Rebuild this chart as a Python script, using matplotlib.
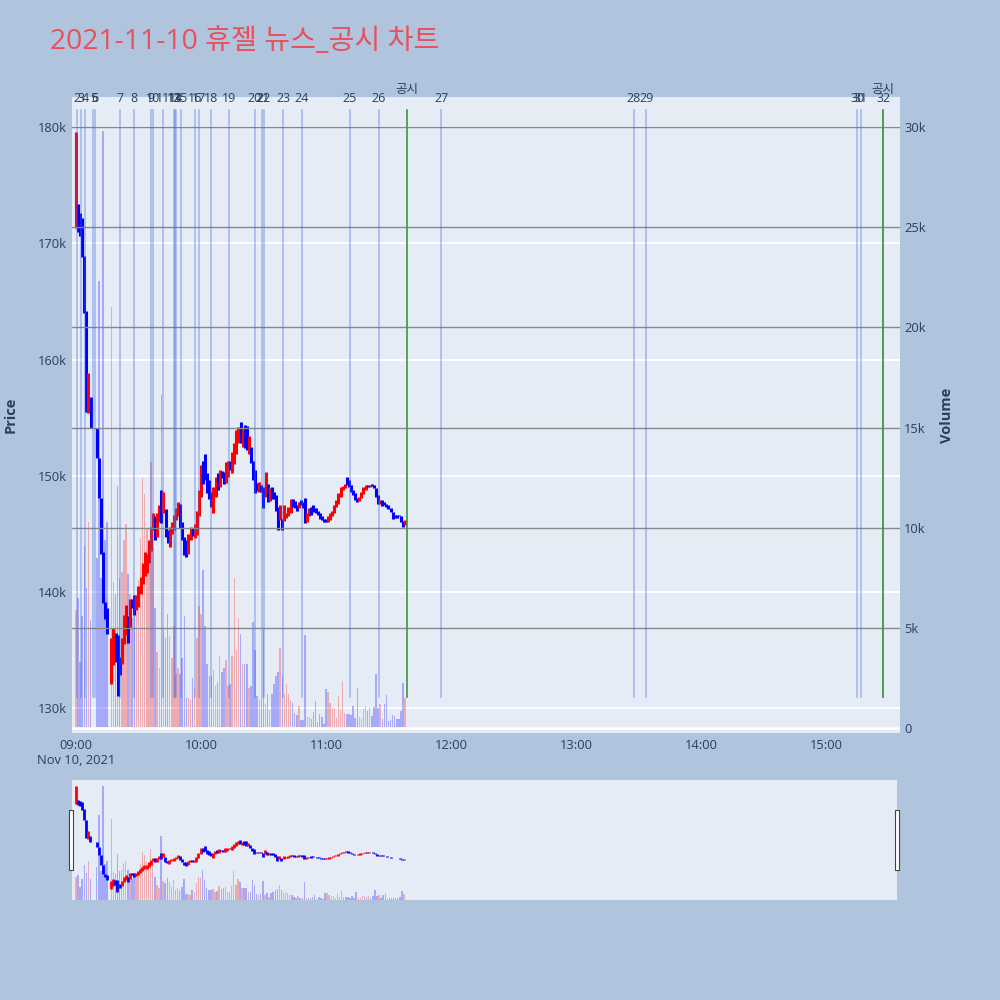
import matplotlib.pyplot as plt
from matplotlib.patches import Rectangle

plt.rcParams['font.family'] = ['Open Sans', 'Noto Sans CJK KR', 'DejaVu Sans']

# 1분봉 (09:00 부터 분 단위), 가격은 천원 단위, None = 거래 없음
opens = [171.3, 173.4, 172.6, 172.2, 168.9, 164.2, 155.4, 156.8, None, None,
         154.1, 151.5, 148.1, 143.4, 139.1, 138.6, None, 132.1, 133.7, 136.5,
         136.3, 134.4, 133.8, 135.5, 136.3, 137.9, 137.0, 139.4, 139.7, 138.4,
         138.7, 139.8, 140.7, 141.4, 141.6, 142.45, 143.5, 145.3, 146.5, 144.7,
         146.0, 148.76, 146.8, 147.1, 145.3, 143.9, 145.0, 145.3, 146.2, 146.5,
         147.6, 146.0, 144.7, 144.5, 143.3, 144.5, 145.5, 144.6, 144.9, 146.5,
         148.2, 151.3, 151.9, 150.2, 149.6, 148.6, 146.75, 148.2, 150.2, 149.0,
         150.4, 150.3, 149.4, 149.9, 151.3, 150.2, 151.0, 151.9, 152.8, 154.6,
         152.5, 154.35, 154.3, 151.9, 152.5, 151.3, 150.5, 149.4, 148.6, 149.2,
         149.0, 148.2, 149.3, 147.8, 149.0, 148.6, 148.3, 147.3, 146.2, 146.3,
         146.1, 146.4, 146.5, 146.8, 148.0, 147.8, 147.5, 147.2, 147.9, 147.7,
         148.05, 146.0, 146.5, 147.3, 147.5, 147.2, 147.0, 146.8, 146.5, 146.3,
         146.3, 146.0, 146.2, 146.5, 146.8, 147.3, 147.6, 148.2, 148.8, 148.9,
         149.9, 149.6, 149.2, 148.8, 148.5, 148.1, 147.8, 148.05, 148.4, 148.8,
         149.2, 149.0, 149.3, 149.2, 148.9, 148.3, 147.6, 147.9, 147.7, 147.6,
         147.5, 147.2, 146.9, 146.6, 146.6, 146.6, 146.5, 146.1, 145.75]
closes = [179.6, 171.0, 170.6, 168.8, 164.0, 155.5, 158.8, 154.1, None, None,
          151.5, 148.1, 143.3, 139.0, 137.7, 136.4, None, 136.0, 136.9, 134.0,
          131.0, 132.8, 136.0, 138.0, 138.9, 135.6, 139.4, 138.6, 138.0, 139.7,
          140.5, 141.3, 142.5, 143.45, 143.3, 144.5, 145.6, 146.75, 144.5, 146.75,
          147.5, 145.9, 148.6, 144.7, 144.2, 145.6, 146.0, 146.6, 147.2, 147.75,
          145.5, 144.5, 143.2, 143.0, 145.0, 145.6, 144.8, 145.8, 147.0, 148.8,
          150.9, 149.3, 149.6, 148.5, 148.0, 147.3, 149.0, 149.9, 148.8, 150.5,
          149.8, 149.3, 151.2, 151.3, 150.5, 152.0, 152.8, 153.9, 154.2, 152.8,
          154.0, 152.4, 152.2, 153.4, 151.1, 149.6, 148.5, 148.7, 149.5, 148.6,
          147.2, 150.3, 147.7, 148.9, 148.0, 148.0, 147.0, 145.3, 147.5, 145.3,
          147.5, 146.8, 147.3, 148.0, 147.3, 147.2, 147.0, 147.7, 147.5, 147.2,
          145.9, 146.8, 147.2, 146.6, 146.9, 146.8, 146.6, 146.3, 146.2, 146.0,
          146.0, 146.5, 146.8, 147.0, 147.5, 147.9, 148.5, 149.0, 149.1, 149.3,
          149.2, 149.0, 148.6, 148.3, 147.9, 147.75, 148.2, 148.6, 149.05, 149.2,
          149.0, 149.2, 149.1, 148.9, 148.2, 147.6, 147.9, 147.4, 147.5, 147.3,
          147.1, 146.9, 146.3, 146.4, 146.4, 146.5, 146.0, 145.6, 146.2]
# 거래량 (천주)
volume = [5.9, 6.5, 3.3, 5.6, 9.1, 7.0, 10.3, 5.4, None, None,
          8.5, 22.3, 7.5, 29.8, 9.4, 10.3, None, 21.0, 7.3, 6.7,
          12.1, 7.5, 7.8, 9.4, 10.2, 7.7, 6.7, 5.5, 6.5, 6.2,
          7.4, 9.5, 12.5, 11.7, 10.0, 9.0, 13.3, 9.0, 6.0, 3.8,
          3.0, 16.6, 5.0, 4.5, 5.7, 4.6, 3.5, 5.1, 2.7, 3.0,
          2.7, 3.5, 5.6, 1.5, 1.5, 1.4, 2.5, 2.0, 4.5, 6.1,
          5.7, 7.9, 5.1, 3.2, 2.6, 2.6, 2.9, 2.1, 2.3, 3.6,
          2.8, 3.0, 3.4, 2.1, 2.2, 3.6, 7.5, 3.9, 5.5, 4.7,
          3.2, 3.2, 3.2, 2.0, 2.1, 5.3, 3.9, 1.6, 1.4, 1.5,
          4.9, 1.2, 1.7, 0.9, 1.7, 2.2, 2.6, 2.8, 4.0, 2.6,
          1.7, 2.2, 1.7, 1.4, 1.23, 0.73, 0.65, 1.1, 0.4, 0.4,
          4.64, 0.57, 0.55, 0.45, 0.8, 1.37, 0.3, 0.68, 0.57, 0.2,
          1.95, 1.8, 1.23, 1.0, 1.0, 0.5, 1.6, 0.9, 2.35, 0.77,
          0.7, 0.7, 0.65, 1.1, 0.5, 1.98, 0.57, 0.45, 0.93, 1.1,
          0.87, 1.07, 0.6, 1.03, 2.68, 0.98, 1.18, 0.43, 1.2, 1.65,
          0.35, 0.4, 0.65, 0.6, 0.45, 0.43, 0.87, 2.23, 1.48]

# 뉴스 번호와 시각 (09:00 이후 분)
news_no = list(range(2, 33))
news_min = [0.6, 2.3, 4.3, 8.3, 9.1, 21.3, 27.8, 36.0, 36.8, 41.6,
            47.0, 47.7, 48.2, 50.5, 57.0, 59.2, 64.9, 73.4, 85.9, 89.4,
            90.1, 99.4, 108.5, 131.4, 145.4, 175.3, 267.7, 273.7, 374.9, 376.8,
            387.4]
disclosure_min = [158.9, 387.4]

hour_ticks = [0, 60, 120, 180, 240, 300, 360]
hour_labels = ['09:00\nNov 10, 2021', '10:00', '11:00', '12:00', '13:00', '14:00', '15:00']
price_ticks = [130, 140, 150, 160, 170, 180]
vol_ticks = [0, 5, 10, 15, 20, 25, 30]

txt = '#2a3f5f'
bg = '#e5ecf6'

mins = [i for i in range(len(opens)) if opens[i] is not None]
o = [opens[i] for i in mins]
c = [closes[i] for i in mins]
v = [volume[i] for i in mins]
up = ['#ff0000' if cc >= oo else '#0000ff' for oo, cc in zip(o, c)]
lo = [min(a, b) for a, b in zip(o, c)]
hi = [max(a, b) for a, b in zip(o, c)]

fig = plt.figure(figsize=(10, 10), dpi=100, facecolor='#b0c4de')

# 메인 차트
ax = fig.add_axes([0.072, 0.267, 0.828, 0.636], facecolor=bg)
ax2 = ax.twinx()
ax.set_xlim(-1.9, 395.5)
ax.set_ylim(127.85, 182.6)
ax2.set_ylim(-0.25, 31.5)

ax.set_yticks(price_ticks)
ax.set_yticklabels([f'{t}k' for t in price_ticks])
ax2.set_yticks(vol_ticks)
ax2.set_yticklabels(['0'] + [f'{t}k' for t in vol_ticks[1:]])
ax.set_xticks(hour_ticks)
ax.set_xticklabels(hour_labels)
ax.grid(axis='y', color='white', lw=1.3)
ax.grid(axis='x', visible=False)
ax.set_axisbelow(True)
ax2.grid(axis='y', color='#888888', lw=1.0)
ax2.axhline(0, color='white', lw=2)

ax.vlines(mins, lo, hi, colors=up, lw=2.2)
ax2.bar(mins, v, width=0.7, color=up, alpha=0.28, lw=0)

for m in news_min:
    ax2.axvline(m, ymin=0.057, ymax=0.98, color='royalblue', alpha=0.4, lw=1.2)
for m in disclosure_min:
    ax2.axvline(m, ymin=0.057, ymax=0.98, color='#3c963c', lw=1.2)
for n, m in zip(news_no, news_min):
    ax2.text(m, 0.998, str(n), transform=ax2.get_xaxis_transform(), ha='center',
             va='center', fontsize=9, color=txt)
for m in disclosure_min:
    ax2.text(m, 1.012, '공시', transform=ax2.get_xaxis_transform(), ha='center',
             va='center', fontsize=9, color=txt)

for a in (ax, ax2):
    for s in a.spines.values():
        s.set_visible(False)
    a.tick_params(length=0, labelsize=9.3, labelcolor=txt)
ax.tick_params(axis='y', pad=4)
ax2.tick_params(axis='y', pad=3)
ax.tick_params(axis='x', pad=4)

ax.set_ylabel('Price', fontsize=10.5, fontweight='bold', color=txt, labelpad=14)
ax2.set_ylabel('Volume', fontsize=10.5, fontweight='bold', color=txt, labelpad=10)

fig.text(0.05, 0.958, '2021-11-10 휴젤 뉴스_공시 차트', fontsize=20.3, color='#e8505b',
         ha='left', va='center')

# 레인지 슬라이더
sl = fig.add_axes([0.072, 0.100, 0.825, 0.120], facecolor=bg)
sl2 = sl.twinx()
sl.set_xlim(-1.9, 395.5)
sl.set_ylim(127.2, 182.4)
sl2.set_ylim(0, 31.3)
sl.vlines(mins, lo, hi, colors=up, lw=2.0)
sl2.bar(mins, v, width=0.7, color=up, alpha=0.28, lw=0)
for a in (sl, sl2):
    a.set_xticks([])
    a.set_yticks([])
    for s in a.spines.values():
        s.set_visible(False)

for hx in (0.069, 0.895):
    fig.patches.append(Rectangle((hx, 0.130), 0.004, 0.06, transform=fig.transFigure,
                                 facecolor='white', edgecolor='#444444', lw=0.8))

fig.savefig('out.png', dpi=100, facecolor=fig.get_facecolor())
